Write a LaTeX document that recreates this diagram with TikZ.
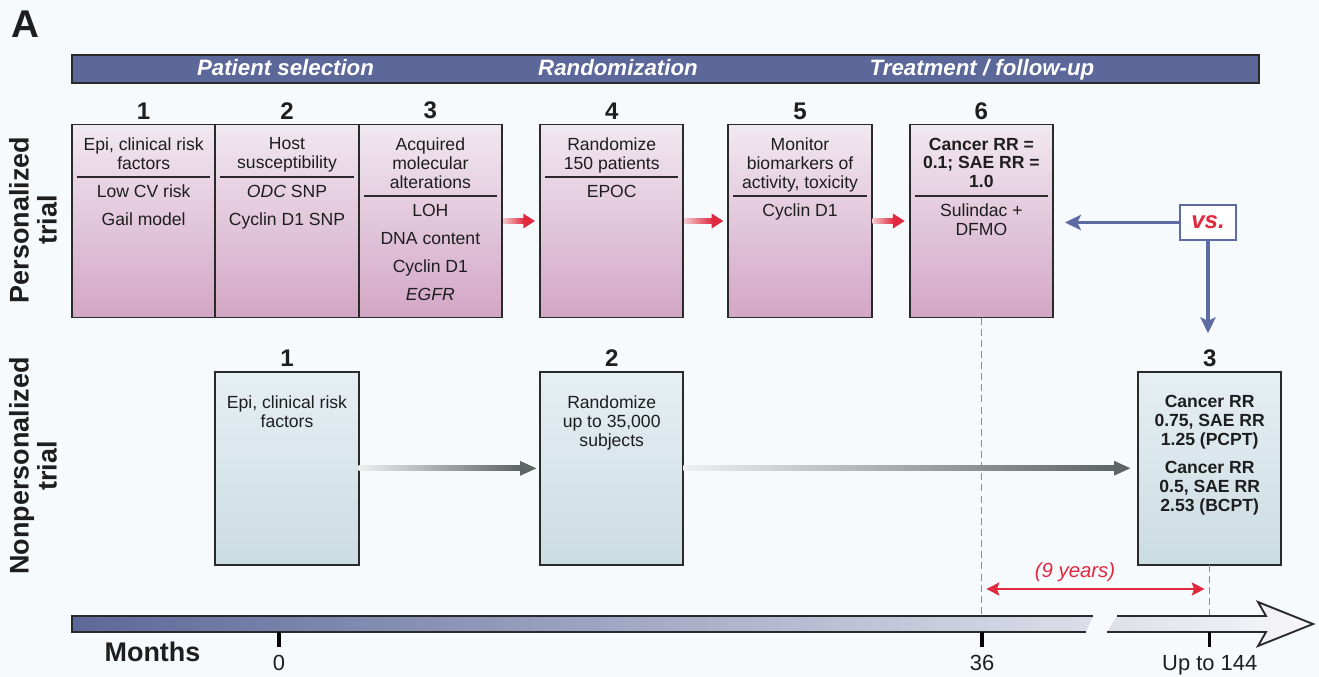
\documentclass[tikz,border=0pt]{standalone}
\usepackage{fontspec}
\setmainfont{Liberation Sans}
\usepackage{xcolor}
\usepackage{tikz}
\usetikzlibrary{calc, positioning, arrows.meta}

\definecolor{paper}{HTML}{F6FAFC}
\definecolor{ink}{HTML}{1E1E1E}
\definecolor{edge}{HTML}{2A2A2A}
\definecolor{barblue}{HTML}{5C6899}
\definecolor{barend}{HTML}{F7F7FA}
\definecolor{pinktop}{HTML}{F1E8F0}
\definecolor{pinkbot}{HTML}{D3A6C6}
\definecolor{bluetop}{HTML}{E6EFF3}
\definecolor{bluebot}{HTML}{CBDCE3}
\definecolor{arrowred}{HTML}{E0283E}
\definecolor{redfade}{HTML}{F4C9CE}
\definecolor{arrowgrey}{HTML}{5F6465}
\definecolor{greyfade}{HTML}{EDF0F1}
\definecolor{vsblue}{HTML}{5E6BA3}
\definecolor{guidegrey}{HTML}{8E8E8E}

\tikzset{
	node distance = 0.15cm,
	line width = 1pt,
	font = \fontsize{15}{16.2}\selectfont,
	trialbox/.style={
		draw=edge,
		line width=1.6pt,
		outer sep=0pt,
		anchor=north west,
		minimum width=4.3cm,
		minimum height=5.79cm,
		top color=pinktop,
		bottom color=pinkbot
	},
	plainbox/.style={
		trialbox,
		top color=bluetop,
		bottom color=bluebot
	},
	steplabel/.style={
		inner sep=0pt,
		text=ink,
		font=\bfseries\fontsize{20.5}{20.5}\selectfont
	},
	boxhead/.style={
		anchor=north,
		align=center,
		inner sep=0pt,
		text=ink
	},
	boxlist/.style={
		boxhead,
		font=\fontsize{15}{23.8}\selectfont
	},
	divider/.style={
		draw=edge,
		line width=1.6pt
	},
	phasetext/.style={
		anchor=base,
		text=white,
		font=\bfseries\itshape\fontsize{19}{19}\selectfont
	},
	sidelabel/.style={
		rotate=90,
		align=center,
		text=ink,
		font=\bfseries\fontsize{23}{23.8}\selectfont
	},
	flowred/.style={
		-{Triangle[length=10pt, width=12pt]},
		draw=arrowred,
		line width=4.3pt,
		shorten <=1pt,
		shorten >=0.15cm
	},
	flowgrey/.style={
		-{Triangle[length=14.5pt, width=11.5pt]},
		draw=arrowgrey,
		line width=4.3pt,
		shorten >=0.09cm
	},
	compare/.style={
		-{Stealth[length=13.5pt, width=13pt, inset=3pt]},
		draw=vsblue,
		line width=3.2pt
	},
	vsbox/.style={
		draw=vsblue,
		line width=2.2pt,
		fill=white,
		minimum width=1.68cm,
		minimum height=1.05cm,
		text=arrowred,
		font=\bfseries\itshape\fontsize{20.5}{20.5}\selectfont
	},
	guide/.style={
		draw=guidegrey,
		line width=1.1pt,
		dash pattern=on 6pt off 3.5pt
	},
	spanarrow/.style={
		{Stealth[length=11pt, width=11pt, inset=2pt]}-{Stealth[length=11pt, width=11pt, inset=2pt]},
		draw=arrowred,
		line width=2pt,
		shorten <=0.15cm,
		shorten >=0.15cm
	},
	axisline/.style={
		draw=edge,
		line width=1.6pt
	},
	tickmark/.style={
		draw=black,
		line width=2.8pt
	},
	ticklabel/.style={
		anchor=base,
		text=ink,
		font=\fontsize{18.7}{18.7}\selectfont
	}
}

\begin{document}
\begin{tikzpicture}[x=0.03cm, y=-0.03cm]
\path[use as bounding box, fill=paper] (0,0) rectangle (1319,677);

\node[anchor=base west, text=ink, font=\bfseries\fontsize{33}{33}\selectfont] (panel) at (7,38) {A};

% phases
\node[draw=edge, line width=1.6pt, fill=barblue, anchor=north west, outer sep=0pt, minimum width=35.6cm, minimum height=0.83cm] (phase) at (72.4,55) {};
\node[phasetext] (sel) at (285.5,75.5) {Patient selection};
\node[phasetext] (rand) at (618,75.5) {Randomization};
\node[phasetext] (treat) at (982,75.5) {Treatment / follow-up};

% personalized trial
\node[sidelabel] (pers) at (33,220) {Personalized\\trial};
\node[trialbox] (p1) at (72,124.5) {};
\node[trialbox, right=0pt of p1] (p2) {};
\node[trialbox, right=0pt of p2] (p3) {};
\node[trialbox, right=1.14cm of p3] (p4) {};
\node[trialbox, right=1.35cm of p4] (p5) {};
\node[trialbox, right=1.14cm of p5] (p6) {};

\node[steplabel, above=of p1] (s1) {1};
\node[steplabel, above=of p2] (s2) {2};
\node[steplabel, above=of p3] (s3) {3};
\node[steplabel, above=of p4] (s4) {4};
\node[steplabel, above=of p5] (s5) {5};
\node[steplabel, above=of p6] (s6) {6};

\node[boxhead] (h1) at ($(p1.north)+(0,13)$) {Epi, clinical risk\\factors};
\node[boxhead] (h2) at ($(p2.north)+(0,13)$) {Host\\susceptibility};
\node[boxhead] (h3) at ($(p3.north)+(0,13)$) {Acquired\\molecular\\alterations};
\node[boxhead] (h4) at ($(p4.north)+(0,13)$) {Randomize\\150 patients};
\node[boxhead] (h5) at ($(p5.north)+(0,13)$) {Monitor\\biomarkers of\\activity, toxicity};
\node[boxhead, font=\bfseries\fontsize{15}{16.2}\selectfont] (h6) at ($(p6.north)+(0,13)$) {Cancer RR =\\0.1; SAE RR =\\1.0};

\draw[divider] ($(p1.north west)+(5,52.5)$) -- ($(p1.north east)+(-5,52.5)$);
\draw[divider] ($(p2.north west)+(5,52.5)$) -- ($(p2.north east)+(-5,52.5)$);
\draw[divider] ($(p3.north west)+(5,71.5)$) -- ($(p3.north east)+(-5,71.5)$);
\draw[divider] ($(p4.north west)+(5,52.5)$) -- ($(p4.north east)+(-5,52.5)$);
\draw[divider] ($(p5.north west)+(5,71.5)$) -- ($(p5.north east)+(-5,71.5)$);
\draw[divider] ($(p6.north west)+(5,71.5)$) -- ($(p6.north east)+(-5,71.5)$);

\node[boxlist] (l1) at ($(p1.north)+(0,60.5)$) {Low CV risk\\Gail model};
\node[boxlist] (l2) at ($(p2.north)+(0,60.5)$) {\textit{ODC} SNP\\Cyclin D1 SNP};
\node[boxlist] (l3) at ($(p3.north)+(0,79.5)$) {LOH\\DNA content\\Cyclin D1\\\textit{EGFR}};
\node[boxlist] (l4) at ($(p4.north)+(0,60.5)$) {EPOC};
\node[boxlist] (l5) at ($(p5.north)+(0,79.5)$) {Cyclin D1};
\node[boxhead] (l6) at ($(p6.north)+(0,79.5)$) {Sulindac +\\DFMO};

\draw[flowred] (p3) -- (p4);
\shade[left color=redfade, right color=arrowred] ($(p3.east)+(1,-2.5)$) rectangle ($(p4.west)+(-16,2.5)$);
\draw[flowred] (p4) -- (p5);
\shade[left color=redfade, right color=arrowred] ($(p4.east)+(1,-2.5)$) rectangle ($(p5.west)+(-16,2.5)$);
\draw[flowred] (p5) -- (p6);
\shade[left color=redfade, right color=arrowred] ($(p5.east)+(1,-2.5)$) rectangle ($(p6.west)+(-16,2.5)$);

% comparison
\node[vsbox] (vs) at (1208,222.5) {vs.};
\draw[compare, shorten >=0.36cm] (vs.west) -- (vs.west -| p6.east);

% nonpersonalized trial
\node[sidelabel] (nonpers) at (33,466) {Nonpersonalized\\trial};
\node[plainbox, below=1.63cm of p2] (np1) {};
\node[plainbox, below=1.63cm of p4] (np2) {};
\node[plainbox] (np3) at (1138,371.7) {};

\node[steplabel, above=of np1] (t1) {1};
\node[steplabel, above=of np2] (t2) {2};
\node[steplabel, above=of np3] (t3) {3};

\draw[compare, shorten >=0.48cm] (vs.south) -- (vs.south |- t3.north);

\node[boxhead] (k1) at ($(np1.north)+(0,23.3)$) {Epi, clinical risk\\factors};
\node[boxhead] (k2) at ($(np2.north)+(0,23.3)$) {Randomize\\up to 35,000\\subjects};
\node[boxhead, font=\bfseries\fontsize{15}{16.2}\selectfont] (k3) at ($(np3.north)+(0,23.3)$) {Cancer RR\\0.75, SAE RR\\1.25 (PCPT)\\[0.27cm]Cancer RR\\0.5, SAE RR\\2.53 (BCPT)};

\draw[flowgrey] (np1) -- (np2);
\shade[left color=greyfade, right color=arrowgrey] ($(np1.east)+(0,-2.5)$) rectangle ($(np2.west)+(-20,2.5)$);
\draw[flowgrey, shorten >=0.21cm] (np2) -- (np3);
\shade[left color=greyfade, right color=arrowgrey] ($(np2.east)+(0,-2.5)$) rectangle ($(np3.west)+(-24,2.5)$);

% time axis
\coordinate (axistop) at (0,616);
\coordinate (axisbot) at (0,632);
\draw[guide] (p6.south) -- (p6.south |- axistop);
\draw[guide] (np3.south) -- (np3.south |- axistop);

\shade[left color=barblue, right color=barend] (72,616) -- (1093,616) -- (1086,632) -- (72,632) -- cycle (1117,616) -- (1266,616) -- (1258,602) -- (1313,624) -- (1258,646) -- (1266,632) -- (1107,632) -- cycle;
\draw[axisline] (1093,616) -- (72,616) -- (72,632) -- (1086,632);
\draw[axisline, line join=miter] (1117,616) -- (1266,616) -- (1258,602) -- (1313,624) -- (1258,646) -- (1266,632) -- (1107,632);

\coordinate (span36) at ($(p6.south |- axistop)+(0,-27)$);
\coordinate (span144) at ($(np3.south |- axistop)+(0,-27)$);
\draw[spanarrow] (span36) -- (span144);
\node[anchor=base, text=arrowred, font=\itshape\fontsize{17.4}{17.4}\selectfont] (years) at (1075,577) {(9 years)};

\node[anchor=base, text=ink, font=\bfseries\fontsize{23}{23}\selectfont] (months) at (152.5,661.7) {Months};
\node[ticklabel] (m0) at (279,670.7) {0};
\node[ticklabel] (m36) at (982,670.7) {36};
\node[ticklabel] (m144) at (1209.7,670.7) {Up to 144};
\draw[tickmark] (m0 |- axisbot) -- ++(0,15);
\draw[tickmark] (m36 |- axisbot) -- ++(0,15);
\draw[tickmark] (m144 |- axisbot) -- ++(0,15);
\end{tikzpicture}
\end{document}
